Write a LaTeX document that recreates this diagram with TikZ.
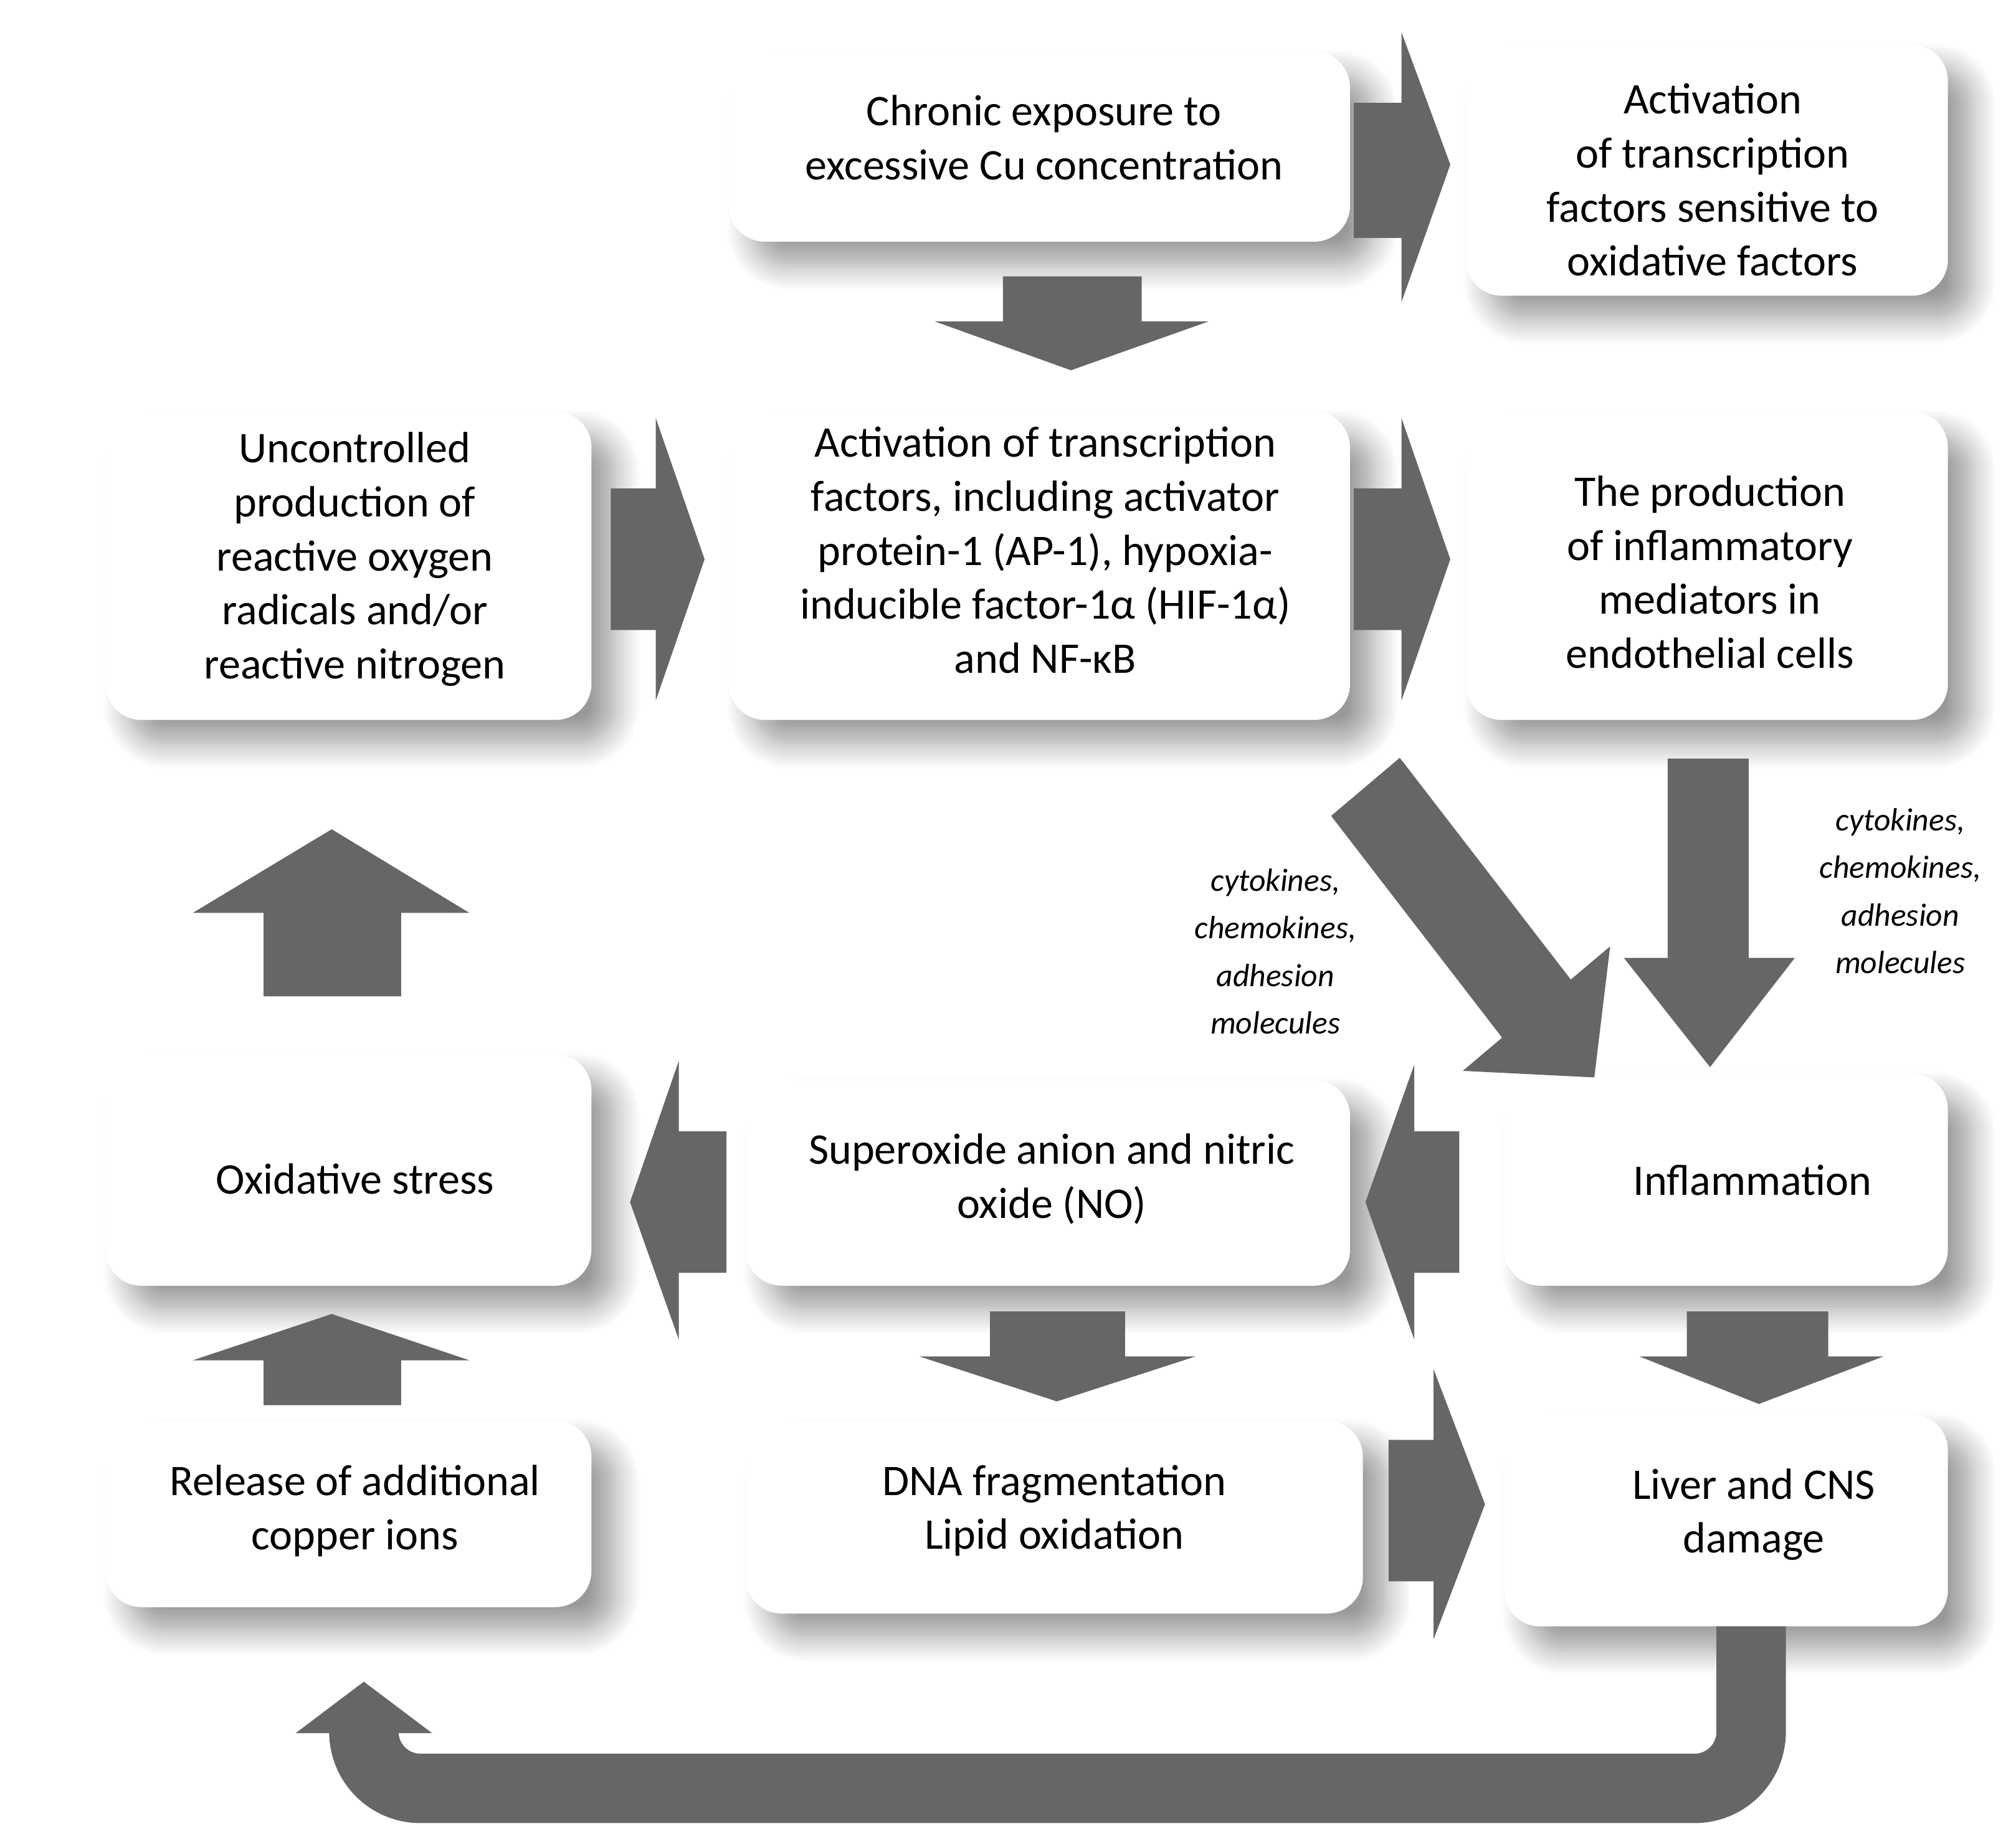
\documentclass[tikz,border=0pt]{standalone}
\usepackage{fontspec}
\setmainfont{Carlito}
\usetikzlibrary{shadows.blur}
\definecolor{arr}{RGB}{102,102,102}
\begin{document}
\begin{tikzpicture}[x=0.5pt,y=-0.5pt,
  box/.style={fill=white,rounded corners=14pt,draw=none,
    blur shadow={shadow xshift=9pt,shadow yshift=-9pt,shadow blur radius=10pt,shadow blur steps=12,shadow opacity=40}},
  txt/.style={align=center,font=\fontsize{17}{21}\selectfont},
  lab/.style={align=center,font=\fontsize{12.5}{18.5}\selectfont\itshape},
  ar/.style={fill=arr,draw=none}]
\useasboundingbox (0,0) rectangle (1568,1430);
% boxes
\path[box] (567,40) rectangle (1050,188);
\path[box] (1140,35) rectangle (1515,230);
\path[box] (82,320) rectangle (460,560);
\path[box] (567,320) rectangle (1050,560);
\path[box] (1140,320) rectangle (1515,560);
\path[box] (82,820) rectangle (460,1000);
\path[box] (580,840) rectangle (1050,1000);
\path[box] (1170,835) rectangle (1515,1000);
\path[box] (82,1105) rectangle (460,1250);
\path[box] (580,1105) rectangle (1060,1255);
\path[box] (1170,1100) rectangle (1515,1265);
% texts
\node[txt] (chronic) at (812,107) {Chronic exposure to\\excessive Cu concentration};
\node[txt] (actox) at (1332,140) {Activation\\of transcription\\factors sensitive to\\oxidative factors};
\node[txt] (uncon) at (276,435) {Uncontrolled\\production of\\reactive oxygen\\radicals and/or\\reactive nitrogen};
\node[txt] (acttf) at (813,428) {Activation of transcription\\factors, including activator\\protein-1 (AP-1), hypoxia-\\inducible factor-1α (HIF-1α)\\and NF-κB};
\node[txt] (prod) at (1330,445) {The production\\of inflammatory\\mediators in\\endothelial cells};
\node[txt] (oxs) at (276,917) {Oxidative stress};
\node[txt] (sup) at (818,917) {Superoxide anion and nitric\\oxide (NO)};
\node[txt] (infl) at (1363,918) {Inflammation};
\node[txt] (rel) at (276,1175) {Release of additional\\copper ions};
\node[txt] (dna) at (820,1175) {DNA fragmentation\\Lipid oxidation};
\node[txt] (liver) at (1364,1178) {Liver and CNS\\damage};
\node[lab] (l1) at (992,740) {cytokines,\\chemokines,\\adhesion\\molecules};
\node[lab] (l2) at (1478,693) {cytokines,\\chemokines,\\adhesion\\molecules};
% arrows
\fill[ar] (1053,80)--(1090,80)--(1090,25)--(1128,128)--(1090,235)--(1090,185)--(1053,185)--cycle;
\fill[ar] (780,215)--(888,215)--(888,250)--(940,250)--(833,288)--(727,250)--(780,250)--cycle;
\fill[ar] (475,380)--(510,380)--(510,325)--(548,435)--(510,545)--(510,490)--(475,490)--cycle;
\fill[ar] (1053,380)--(1090,380)--(1090,325)--(1128,435)--(1090,545)--(1090,490)--(1053,490)--cycle;
\fill[ar] (1088.7,589.4)--(1221.7,761.9)--(1252.3,736.1)--(1240,838)--(1137.7,832.9)--(1168.3,807.1)--(1035.3,634.6)--cycle;
\fill[ar] (1297,590)--(1360,590)--(1360,745)--(1396,745)--(1330,830)--(1263,745)--(1297,745)--cycle;
\fill[ar] (205,775)--(312,775)--(312,710)--(365,710)--(258,645)--(150,710)--(205,710)--cycle;
\fill[ar] (565,880)--(528,880)--(528,825)--(490,935)--(528,1042)--(528,990)--(565,990)--cycle;
\fill[ar] (1135,880)--(1100,880)--(1100,828)--(1062,935)--(1100,1042)--(1100,990)--(1135,990)--cycle;
\fill[ar] (770,1020)--(875,1020)--(875,1055)--(930,1055)--(822,1090)--(715,1055)--(770,1055)--cycle;
\fill[ar] (1312,1020)--(1422,1020)--(1422,1055)--(1465,1055)--(1368,1092)--(1275,1055)--(1312,1055)--cycle;
\fill[ar] (205,1093)--(312,1093)--(312,1058)--(365,1058)--(258,1022)--(150,1058)--(205,1058)--cycle;
\fill[ar] (1080,1120)--(1115,1120)--(1115,1065)--(1155,1170)--(1115,1275)--(1115,1230)--(1080,1230)--cycle;
\coordinate (c1) at (1362,1265);
\coordinate (c2) at (283,1346);
\draw[arr,line width=27pt,rounded corners=22pt] (c1) -- (1362,1391) -- (283,1391) -- (c2);
\fill[ar] (230,1348)--(336,1348)--(283,1308)--cycle;
\end{tikzpicture}
\end{document}
